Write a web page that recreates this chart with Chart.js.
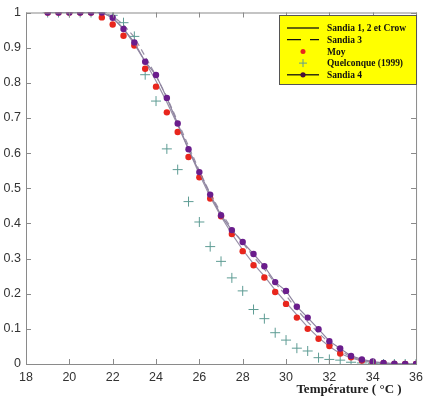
<!DOCTYPE html>
<html>
<head>
<meta charset="utf-8">
<script src="https://cdn.jsdelivr.net/npm/chart.js@4.4.0/dist/chart.umd.min.js"></script>
<style>
  html, body { margin: 0; padding: 0; background: #fff; }
  #wrap { width: 429px; height: 400px; }
</style>
</head>
<body>
<div id="wrap"><canvas id="chart" width="429" height="400"></canvas></div>
<script>
// Températures (°C), pas de 0.5
const temperatures = [19, 19.5, 20, 20.5, 21, 21.5, 22, 22.5, 23, 23.5, 24, 24.5, 25, 25.5,
  26, 26.5, 27, 27.5, 28, 28.5, 29, 29.5, 30, 30.5, 31, 31.5, 32, 32.5, 33, 33.5,
  34, 34.5, 35, 35.5, 36];

const sandia12Crow = [1, 1, 1, 1, 1, 1, 0.985, 0.955, 0.91, 0.86, 0.805, 0.745, 0.68, 0.61,
  0.54, 0.475, 0.42, 0.37, 0.325, 0.285, 0.25, 0.21, 0.175, 0.14, 0.105, 0.075, 0.05, 0.03,
  0.017, 0.009, 0.004, 0.002, 0.001, 0, 0];

const sandia3 = [1, 1, 1, 1, 1, 1, 0.99, 0.965, 0.93, 0.875, 0.82, 0.76, 0.69, 0.62,
  0.55, 0.485, 0.43, 0.385, 0.345, 0.305, 0.27, 0.23, 0.195, 0.155, 0.12, 0.088, 0.06, 0.038,
  0.02, 0.01, 0.005, 0.002, 0.001, 0, 0];

const moy = [1, 1, 1, 1, 1, 0.986, 0.966, 0.934, 0.906, 0.84, 0.789, 0.716, 0.66, 0.589,
  0.531, 0.471, 0.42, 0.37, 0.321, 0.281, 0.246, 0.205, 0.171, 0.132, 0.1, 0.072, 0.051, 0.03,
  0.019, 0.01, 0.005, 0.002, 0, 0, 0];

const quelconque = [1, 1, 1, 1, 1, 1, 0.992, 0.971, 0.932, 0.823, 0.748, 0.612, 0.553, 0.462,
  0.404, 0.334, 0.292, 0.245, 0.208, 0.155, 0.129, 0.089, 0.068, 0.045, 0.037, 0.018, 0.013, 0.011,
  0.005, 0.003, 0.001, 0, 0, 0, 0];

const sandia4 = [1, 1, 1, 1, 1, 1, 0.985, 0.953, 0.915, 0.86, 0.822, 0.757, 0.684, 0.611,
  0.546, 0.482, 0.423, 0.381, 0.347, 0.313, 0.278, 0.233, 0.208, 0.163, 0.132, 0.099, 0.065, 0.044,
  0.023, 0.013, 0.007, 0.003, 0.001, 0, 0];

const xTicks = [18, 20, 22, 24, 26, 28, 30, 32, 34, 36];
const yTicks = [0, 0.1, 0.2, 0.3, 0.4, 0.5, 0.6, 0.7, 0.8, 0.9, 1];

const legendLabels = ['Sandia 1, 2 et Crow', 'Sandia 3', 'Moy', 'Quelconque (1999)', 'Sandia 4'];
const axisTitle = 'Température ( °C )';

const toPoints = (values) => temperatures.map((t, i) => ({ x: t, y: values[i] }));

const LINE_GREY = '#9a92a8';
const PURPLE = '#6a1d8c';
const RED = '#e8261d';
const TEAL = '#5e9c94';
const AXIS = '#8a8a8a';

// Cadre + graduations vers l'intérieur (style MATLAB)
const framePlugin = {
  id: 'frame',
  afterDraw(chart) {
    const { ctx, chartArea: a, scales } = chart;
    ctx.save();
    ctx.strokeStyle = AXIS;
    ctx.lineWidth = 1;
    ctx.strokeRect(a.left + 0.5, a.top + 0.5, a.right - a.left, a.bottom - a.top);
    ctx.beginPath();
    xTicks.forEach(v => {
      const px = Math.round(scales.x.getPixelForValue(v)) + 0.5;
      ctx.moveTo(px, a.bottom); ctx.lineTo(px, a.bottom - 5);
      ctx.moveTo(px, a.top); ctx.lineTo(px, a.top + 5);
    });
    yTicks.forEach(v => {
      const py = Math.round(scales.y.getPixelForValue(v)) + 0.5;
      ctx.moveTo(a.left, py); ctx.lineTo(a.left + 5, py);
      ctx.moveTo(a.right, py); ctx.lineTo(a.right - 5, py);
    });
    ctx.stroke();

    // titre de l'axe x
    ctx.fillStyle = '#222';
    ctx.font = 'bold 13px "Liberation Serif"';
    ctx.textAlign = 'center';
    ctx.textBaseline = 'middle';
    ctx.fillText(axisTitle, 349, 390);
    ctx.restore();
  }
};

// Légende jaune dans le coin
const legendPlugin = {
  id: 'yellowLegend',
  afterDraw(chart) {
    const { ctx } = chart;
    const bx = 279, by = 15, bw = 137, bh = 69;
    ctx.save();
    ctx.fillStyle = '#ffff00';
    ctx.fillRect(bx, by, bw, bh);
    ctx.strokeStyle = '#555';
    ctx.lineWidth = 1;
    ctx.strokeRect(bx + 0.5, by + 0.5, bw, bh);

    const x0 = 287, x1 = 319, xm = 303, tx = 327;
    const rowY = (i) => by + 13 + i * 11.7;
    ctx.strokeStyle = '#111';
    ctx.lineWidth = 1.3;

    // Sandia 1, 2 et Crow
    ctx.beginPath(); ctx.moveTo(x0, rowY(0)); ctx.lineTo(x1, rowY(0)); ctx.stroke();
    // Sandia 3
    ctx.beginPath();
    ctx.moveTo(x0, rowY(1)); ctx.lineTo(x0 + 14, rowY(1));
    ctx.moveTo(x0 + 23, rowY(1)); ctx.lineTo(x1, rowY(1));
    ctx.stroke();
    // Moy
    ctx.fillStyle = RED;
    ctx.beginPath(); ctx.arc(xm, rowY(2), 2.5, 0, Math.PI * 2); ctx.fill();
    // Quelconque
    ctx.strokeStyle = TEAL;
    ctx.lineWidth = 1;
    ctx.beginPath();
    ctx.moveTo(xm - 4, rowY(3)); ctx.lineTo(xm + 4, rowY(3));
    ctx.moveTo(xm, rowY(3) - 4); ctx.lineTo(xm, rowY(3) + 4);
    ctx.stroke();
    // Sandia 4
    ctx.strokeStyle = '#111';
    ctx.lineWidth = 1.3;
    ctx.beginPath(); ctx.moveTo(x0, rowY(4)); ctx.lineTo(x1, rowY(4)); ctx.stroke();
    ctx.fillStyle = '#4a0f3a';
    ctx.beginPath(); ctx.arc(xm, rowY(4), 2.6, 0, Math.PI * 2); ctx.fill();

    // texte condensé pour tenir dans la boîte
    ctx.fillStyle = '#111';
    ctx.font = 'bold 11px "Liberation Serif"';
    ctx.textAlign = 'left';
    ctx.textBaseline = 'middle';
    const sx = 79 / ctx.measureText(legendLabels[0]).width;
    legendLabels.forEach((label, i) => {
      ctx.save();
      ctx.translate(tx, rowY(i) + 0.5);
      ctx.scale(sx, 1);
      ctx.fillText(label, 0, 0);
      ctx.restore();
    });
    ctx.restore();
  }
};

const ctx = document.getElementById('chart').getContext('2d');

new Chart(ctx, {
  type: 'line',
  data: {
    datasets: [
      {
        label: legendLabels[0],
        data: toPoints(sandia12Crow),
        borderColor: LINE_GREY,
        borderWidth: 1.2,
        pointRadius: 0,
        fill: false,
        order: 5
      },
      {
        label: legendLabels[1],
        data: toPoints(sandia3),
        borderColor: LINE_GREY,
        borderWidth: 1.2,
        borderDash: [6, 4],
        pointRadius: 0,
        fill: false,
        order: 4
      },
      {
        label: legendLabels[3],
        data: toPoints(quelconque),
        showLine: false,
        pointStyle: 'cross',
        pointRadius: 5,
        pointBorderColor: TEAL,
        pointBorderWidth: 1,
        order: 3
      },
      {
        label: legendLabels[2],
        data: toPoints(moy),
        showLine: false,
        pointStyle: 'circle',
        pointRadius: 3.2,
        pointBackgroundColor: RED,
        pointBorderColor: RED,
        pointBorderWidth: 0,
        order: 2
      },
      {
        label: legendLabels[4],
        data: toPoints(sandia4),
        borderColor: '#8e84a0',
        borderWidth: 1.2,
        pointStyle: 'circle',
        pointRadius: 3.2,
        pointBackgroundColor: PURPLE,
        pointBorderColor: PURPLE,
        pointBorderWidth: 0,
        fill: false,
        order: 1
      }
    ]
  },
  options: {
    responsive: false,
    animation: false,
    layout: { padding: { top: 9, right: 7, left: 0, bottom: 0 } },
    plugins: {
      legend: { display: false },
      tooltip: { enabled: false }
    },
    scales: {
      x: {
        type: 'linear',
        min: 18,
        max: 36,
        afterBuildTicks: (scale) => { scale.ticks = xTicks.map(v => ({ value: v })); },
        afterFit: (scale) => { scale.height = 36; },
        grid: { display: false, drawTicks: false },
        border: { display: false },
        ticks: {
          padding: 6,
          color: '#333',
          font: { family: '"Liberation Sans", Arial, sans-serif', size: 12.5 },
          maxRotation: 0
        }
      },
      y: {
        type: 'linear',
        min: 0,
        max: 1,
        afterBuildTicks: (scale) => { scale.ticks = yTicks.map(v => ({ value: v })); },
        afterFit: (scale) => { scale.width = 26; },
        grid: { display: false, drawTicks: false },
        border: { display: false },
        ticks: {
          padding: 5,
          color: '#333',
          font: { family: '"Liberation Sans", Arial, sans-serif', size: 12.5 },
          callback: (v) => (v === 0 || v === 1) ? String(v) : v.toFixed(1)
        }
      }
    }
  },
  plugins: [framePlugin, legendPlugin]
});
</script>
</body>
</html>
